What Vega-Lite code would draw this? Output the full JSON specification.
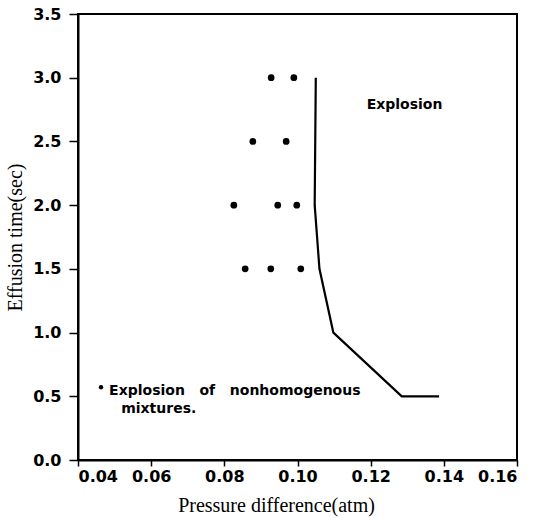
{
  "$schema": "https://vega.github.io/schema/vega-lite/v6.json",
  "width": 439,
  "height": 446,
  "autosize": {"type": "none"},
  "padding": {"left": 78, "top": 14, "right": 16, "bottom": 58},
  "background": "white",
  "config": {
    "view": {"stroke": "black", "strokeWidth": 2},
    "axis": {
      "domainColor": "black", "domainWidth": 2,
      "tickColor": "black", "tickWidth": 1.5,
      "grid": false,
      "labelFont": "DejaVu Sans", "labelFontWeight": "bold", "labelFontSize": 16, "labelColor": "black",
      "titleFont": "Liberation Serif", "titleFontWeight": "normal", "titleFontSize": 20, "titleColor": "black"
    }
  },
  "layer": [
    {
      "data": {"values": [
        {"pressure": 0.0928, "time": 3.0}, {"pressure": 0.0990, "time": 3.0},
        {"pressure": 0.0878, "time": 2.5}, {"pressure": 0.0969, "time": 2.5},
        {"pressure": 0.0826, "time": 2.0}, {"pressure": 0.0946, "time": 2.0}, {"pressure": 0.0998, "time": 2.0},
        {"pressure": 0.0857, "time": 1.5}, {"pressure": 0.0927, "time": 1.5}, {"pressure": 0.1009, "time": 1.5}
      ]},
      "mark": {"type": "point", "filled": true, "color": "black", "opacity": 1, "size": 45},
      "encoding": {
        "x": {"field": "pressure", "type": "quantitative",
              "scale": {"domain": [0.04, 0.16], "nice": false, "zero": false},
              "axis": {"values": [0.04, 0.06, 0.08, 0.1, 0.12, 0.14, 0.16], "format": ".2f",
                       "title": "Pressure difference(atm)", "tickSize": 6, "labelPadding": 2,
                       "titleX": 198, "titleY": 45, "titleBaseline": "middle", "titleAlign": "center"}},
        "y": {"field": "time", "type": "quantitative",
              "scale": {"domain": [0, 3.5], "nice": false, "zero": false},
              "axis": {"values": [0, 0.5, 1, 1.5, 2, 2.5, 3, 3.5], "format": ".1f",
                       "title": "Effusion time(sec)", "tickSize": 9, "labelPadding": 8,
                       "titleX": -63, "titleY": 223, "titleBaseline": "middle", "titleAlign": "center", "titleAngle": -90}}
      }
    },
    {
      "data": {"values": [
        {"pressure": 0.1050, "time": 3.0, "order": 1},
        {"pressure": 0.1047, "time": 2.0, "order": 2},
        {"pressure": 0.1060, "time": 1.5, "order": 3},
        {"pressure": 0.1098, "time": 1.0, "order": 4},
        {"pressure": 0.1285, "time": 0.5, "order": 5},
        {"pressure": 0.1387, "time": 0.5, "order": 6}
      ]},
      "mark": {"type": "line", "color": "black", "strokeWidth": 2.2},
      "encoding": {
        "x": {"field": "pressure", "type": "quantitative"},
        "y": {"field": "time", "type": "quantitative"},
        "order": {"field": "order", "type": "quantitative"}
      }
    },
    {
      "data": {"values": [{"pressure": 0.0463, "time": 0.571}]},
      "mark": {"type": "point", "filled": true, "color": "black", "opacity": 1, "size": 20},
      "encoding": {
        "x": {"field": "pressure", "type": "quantitative"},
        "y": {"field": "time", "type": "quantitative"}
      }
    },
    {
      "data": {"values": [
        {"pressure": 0.1189, "time": 2.752, "label": "Explosion"},
        {"pressure": 0.0485, "time": 0.510, "label": "Explosion\u00a0\u00a0\u00a0of\u00a0\u00a0\u00a0nonhomogenous"},
        {"pressure": 0.0518, "time": 0.371, "label": "mixtures."}
      ]},
      "mark": {"type": "text", "align": "left", "baseline": "alphabetic", "font": "DejaVu Sans", "fontWeight": "bold", "fontSize": 14, "color": "black"},
      "encoding": {
        "x": {"field": "pressure", "type": "quantitative"},
        "y": {"field": "time", "type": "quantitative"},
        "text": {"field": "label"}
      }
    }
  ]
}
